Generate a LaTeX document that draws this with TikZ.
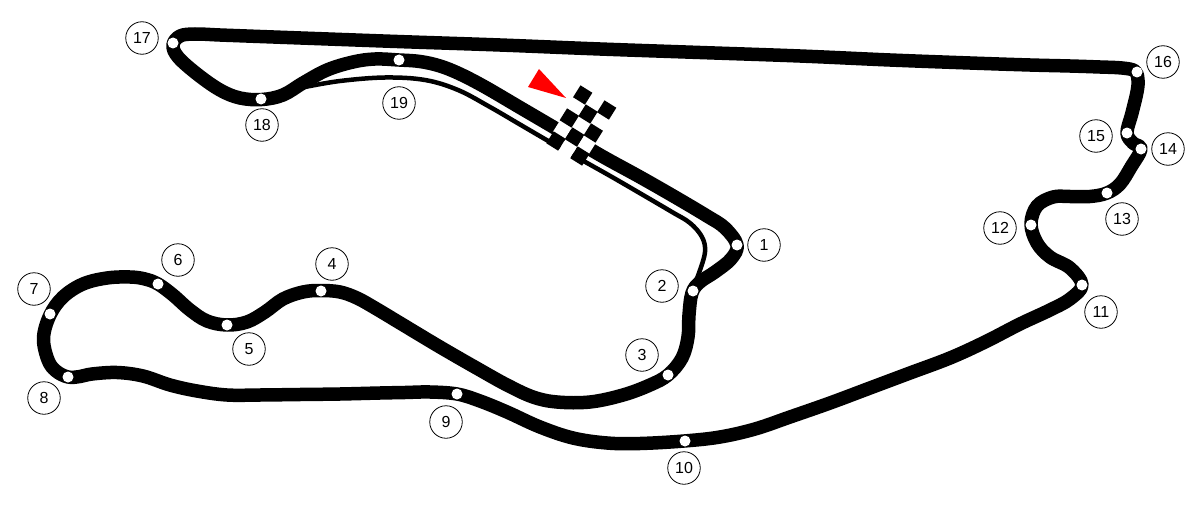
\documentclass[tikz,border=0pt]{standalone}
\usepackage{fontspec}
\setmainfont{Liberation Sans}
\tikzset{
  trackline/.style={line width=13.5pt,line join=round,line cap=round,black},
  pitline/.style={line width=4.5pt,line join=round,black},
  turnlabel/.style={circle,draw=black,line width=0.8pt,fill=white,minimum size=32.5pt,inner sep=0pt,font=\fontsize{16}{16}\selectfont},
  turndot/.style={circle,fill=white,minimum size=11pt,inner sep=0pt},
  flagsq/.style={fill=black,minimum size=14pt,inner sep=0pt,rotate=-32},
  flagwh/.style={fill=white,minimum size=14pt,inner sep=0pt,rotate=-32}
}
\begin{document}
\begin{tikzpicture}[x=1pt,y=-1pt]
\useasboundingbox (0,0) rectangle (1200,511);
% pit lane
\draw[pitline] plot[smooth,tension=0.6] coordinates {(305,87)(340,81)(385,77.5)(425,80)(458,90)(490,107)(520,124.5)(550,142)(580,159)(612,177)(643,195)(672,212)(690,223)(702,237)(705,252)(699,273)(694,285)};
% track
\draw[trackline] plot[smooth cycle,tension=0.6] coordinates {
(399,60)(420,61.5)(440,66)(460,74)(485,87)(520,107.5)(560,131)(600,155)(640,177)(675,197)(707,216)(725,228)(737,245)(731,259)(715,272)(700,282)(692,293)(689,315)(688,337)(682,358)(668,375)(650,385)(623,395)(590,402)(557,402)(533,397)(507,385)(480,370)(440,347)(400,323)(375,308)(357,298)(340,292)(321,290.5)(303,292)(283,299)(265,312)(247,322)(227,325)(207,321)(190,310)(173,295)(158,284)(145,279)(130,277)(107,278)(83,284)(63,297)(50,315)(43.5,338)(48,360)(56,371)(68,377)(80,376.5)(92,374)(117,372.5)(143,376)(170,385)(197,391)(227,395)(260,395)(300,394.5)(340,394)(380,393)(405,392.5)(430,392)(457,394)(480,401)(507,412)(540,427)(573,438)(607,443)(640,443.5)(684,441)(720,437)(755,429)(790,417)(830,403)(870,388)(910,373)(950,358)(985,342)(1020,324)(1050,310)(1070,299)(1082,285)(1070,268)(1050,257)(1037,243)(1031,224)(1037,206)(1053,197)(1070,196.5)(1090,196.5)(1107,193)(1120,184)(1131,167)(1141,149)(1133,143)(1127,133)(1132,113)(1137,92)(1138,80)(1135,71)(1122,68)(1100,67)(1070,66)(1030,65)(970,63)(890,60)(800,56)(700,52.5)(600,49)(500,45)(400,41.6)(320,38.7)(260,36.5)(220,35)(195,34)(180,36)(173,45)(178,57)(197,74)(220,90)(240,98)(262,99.5)(283,95)(303,83)(327,70)(353,62)(375,59)};
% chequered flag
\foreach \i/\j in {0/1,0/3,1/0,1/2,1/4,2/1,2/3}
  \node[flagwh] (w\i\j) at ({582.7+12*\i-6.7*\j},{95+7.5*\i+11.5*\j}) {};
\foreach \i/\j in {0/0,0/2,0/4,1/1,1/3,2/0,2/2,2/4}
  \node[flagsq] (b\i\j) at ({582.7+12*\i-6.7*\j},{95+7.5*\i+11.5*\j}) {};
\fill[red] (539,69) -- (528,87) -- (566,98) -- cycle;
% turn dots
\foreach \n/\x/\y in {1/737/245,2/693/291,3/668/375,4/321/291,5/227/325,6/158/284,7/50/314,8/68/377,9/457/394,10/685/441,11/1082/285,12/1031/225,13/1107/193,14/1141/149,15/1127/133,16/1137/72,17/173/43,18/261/99,19/399/60}
  \node[turndot] (d\n) at (\x,\y) {};
% turn labels
\foreach \n/\x/\y in {1/764/245,2/662/286,3/642/355,4/332/264,5/249/349,6/178/260,7/34/289,8/44/398,9/446/422,10/684/468,11/1101/312,12/1000/228,13/1122/219,14/1168/149,15/1096/136,16/1163/62,17/142/38,18/262/125,19/399/103}
  \node[turnlabel] (t\n) at (\x,\y) {\n};
\end{tikzpicture}
\end{document}
